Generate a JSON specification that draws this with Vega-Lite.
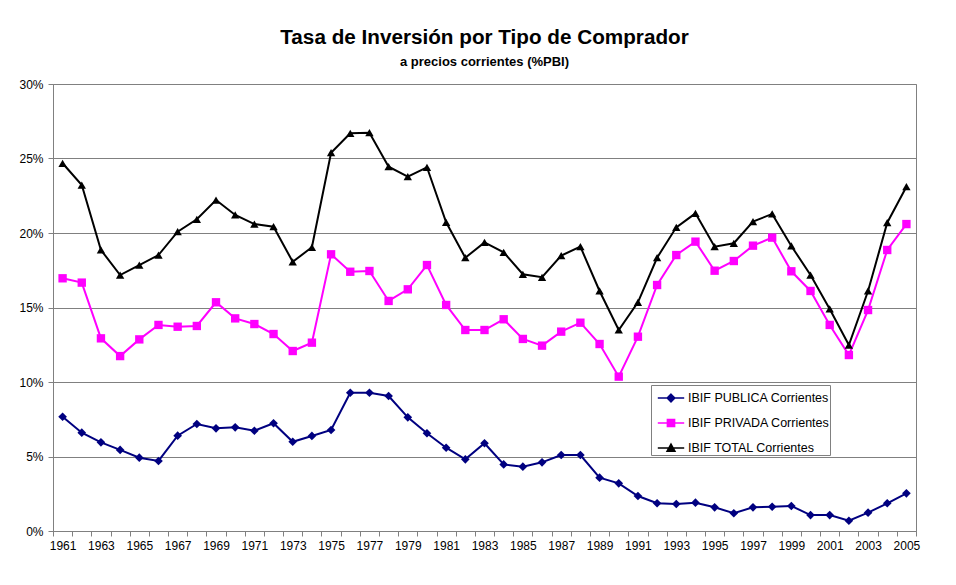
{
  "$schema": "https://vega.github.io/schema/vega-lite/v6.json",
  "width": 863,
  "height": 447,
  "autosize": {"type": "none"},
  "padding": {"left": 53, "top": 84, "right": 40, "bottom": 54},
  "background": "white",
  "config": {
    "font": "Liberation Sans",
    "view": {"stroke": "#808080", "strokeWidth": 1}
  },
  "title": {
    "text": "Tasa de Inversión por Tipo de Comprador",
    "subtitle": "a precios corrientes (%PBI)",
    "anchor": "middle",
    "font": "Liberation Sans",
    "fontSize": 20.7,
    "fontWeight": "bold",
    "color": "black",
    "subtitleFont": "Liberation Sans",
    "subtitleFontSize": 13,
    "subtitleFontWeight": "bold",
    "subtitleColor": "black",
    "subtitlePadding": 7,
    "offset": 8
  },
  "datasets": {
    "rows": [
      {"year":1961,"series":"IBIF PUBLICA Corrientes","value":7.67},
      {"year":1962,"series":"IBIF PUBLICA Corrientes","value":6.6},
      {"year":1963,"series":"IBIF PUBLICA Corrientes","value":5.95},
      {"year":1964,"series":"IBIF PUBLICA Corrientes","value":5.44},
      {"year":1965,"series":"IBIF PUBLICA Corrientes","value":4.92},
      {"year":1966,"series":"IBIF PUBLICA Corrientes","value":4.7},
      {"year":1967,"series":"IBIF PUBLICA Corrientes","value":6.4},
      {"year":1968,"series":"IBIF PUBLICA Corrientes","value":7.18},
      {"year":1969,"series":"IBIF PUBLICA Corrientes","value":6.89},
      {"year":1970,"series":"IBIF PUBLICA Corrientes","value":6.96},
      {"year":1971,"series":"IBIF PUBLICA Corrientes","value":6.73},
      {"year":1972,"series":"IBIF PUBLICA Corrientes","value":7.23},
      {"year":1973,"series":"IBIF PUBLICA Corrientes","value":5.99},
      {"year":1974,"series":"IBIF PUBLICA Corrientes","value":6.38},
      {"year":1975,"series":"IBIF PUBLICA Corrientes","value":6.78},
      {"year":1976,"series":"IBIF PUBLICA Corrientes","value":9.28},
      {"year":1977,"series":"IBIF PUBLICA Corrientes","value":9.28},
      {"year":1978,"series":"IBIF PUBLICA Corrientes","value":9.06},
      {"year":1979,"series":"IBIF PUBLICA Corrientes","value":7.63},
      {"year":1980,"series":"IBIF PUBLICA Corrientes","value":6.56},
      {"year":1981,"series":"IBIF PUBLICA Corrientes","value":5.59},
      {"year":1982,"series":"IBIF PUBLICA Corrientes","value":4.81},
      {"year":1983,"series":"IBIF PUBLICA Corrientes","value":5.89},
      {"year":1984,"series":"IBIF PUBLICA Corrientes","value":4.47},
      {"year":1985,"series":"IBIF PUBLICA Corrientes","value":4.32},
      {"year":1986,"series":"IBIF PUBLICA Corrientes","value":4.61},
      {"year":1987,"series":"IBIF PUBLICA Corrientes","value":5.1},
      {"year":1988,"series":"IBIF PUBLICA Corrientes","value":5.1},
      {"year":1989,"series":"IBIF PUBLICA Corrientes","value":3.58},
      {"year":1990,"series":"IBIF PUBLICA Corrientes","value":3.2},
      {"year":1991,"series":"IBIF PUBLICA Corrientes","value":2.35},
      {"year":1992,"series":"IBIF PUBLICA Corrientes","value":1.86},
      {"year":1993,"series":"IBIF PUBLICA Corrientes","value":1.81},
      {"year":1994,"series":"IBIF PUBLICA Corrientes","value":1.9},
      {"year":1995,"series":"IBIF PUBLICA Corrientes","value":1.59},
      {"year":1996,"series":"IBIF PUBLICA Corrientes","value":1.19},
      {"year":1997,"series":"IBIF PUBLICA Corrientes","value":1.59},
      {"year":1998,"series":"IBIF PUBLICA Corrientes","value":1.63},
      {"year":1999,"series":"IBIF PUBLICA Corrientes","value":1.68},
      {"year":2000,"series":"IBIF PUBLICA Corrientes","value":1.07},
      {"year":2001,"series":"IBIF PUBLICA Corrientes","value":1.07},
      {"year":2002,"series":"IBIF PUBLICA Corrientes","value":0.69},
      {"year":2003,"series":"IBIF PUBLICA Corrientes","value":1.23},
      {"year":2004,"series":"IBIF PUBLICA Corrientes","value":1.86},
      {"year":2005,"series":"IBIF PUBLICA Corrientes","value":2.53},
      {"year":1961,"series":"IBIF PRIVADA Corrientes","value":16.96},
      {"year":1962,"series":"IBIF PRIVADA Corrientes","value":16.67},
      {"year":1963,"series":"IBIF PRIVADA Corrientes","value":12.93},
      {"year":1964,"series":"IBIF PRIVADA Corrientes","value":11.74},
      {"year":1965,"series":"IBIF PRIVADA Corrientes","value":12.86},
      {"year":1966,"series":"IBIF PRIVADA Corrientes","value":13.83},
      {"year":1967,"series":"IBIF PRIVADA Corrientes","value":13.71},
      {"year":1968,"series":"IBIF PRIVADA Corrientes","value":13.76},
      {"year":1969,"series":"IBIF PRIVADA Corrientes","value":15.35},
      {"year":1970,"series":"IBIF PRIVADA Corrientes","value":14.27},
      {"year":1971,"series":"IBIF PRIVADA Corrientes","value":13.89},
      {"year":1972,"series":"IBIF PRIVADA Corrientes","value":13.22},
      {"year":1973,"series":"IBIF PRIVADA Corrientes","value":12.08},
      {"year":1974,"series":"IBIF PRIVADA Corrientes","value":12.64},
      {"year":1975,"series":"IBIF PRIVADA Corrientes","value":18.57},
      {"year":1976,"series":"IBIF PRIVADA Corrientes","value":17.4},
      {"year":1977,"series":"IBIF PRIVADA Corrientes","value":17.45},
      {"year":1978,"series":"IBIF PRIVADA Corrientes","value":15.44},
      {"year":1979,"series":"IBIF PRIVADA Corrientes","value":16.22},
      {"year":1980,"series":"IBIF PRIVADA Corrientes","value":17.85},
      {"year":1981,"series":"IBIF PRIVADA Corrientes","value":15.17},
      {"year":1982,"series":"IBIF PRIVADA Corrientes","value":13.49},
      {"year":1983,"series":"IBIF PRIVADA Corrientes","value":13.49},
      {"year":1984,"series":"IBIF PRIVADA Corrientes","value":14.21},
      {"year":1985,"series":"IBIF PRIVADA Corrientes","value":12.89},
      {"year":1986,"series":"IBIF PRIVADA Corrientes","value":12.44},
      {"year":1987,"series":"IBIF PRIVADA Corrientes","value":13.38},
      {"year":1988,"series":"IBIF PRIVADA Corrientes","value":13.98},
      {"year":1989,"series":"IBIF PRIVADA Corrientes","value":12.55},
      {"year":1990,"series":"IBIF PRIVADA Corrientes","value":10.36},
      {"year":1991,"series":"IBIF PRIVADA Corrientes","value":13.04},
      {"year":1992,"series":"IBIF PRIVADA Corrientes","value":16.51},
      {"year":1993,"series":"IBIF PRIVADA Corrientes","value":18.52},
      {"year":1994,"series":"IBIF PRIVADA Corrientes","value":19.42},
      {"year":1995,"series":"IBIF PRIVADA Corrientes","value":17.47},
      {"year":1996,"series":"IBIF PRIVADA Corrientes","value":18.12},
      {"year":1997,"series":"IBIF PRIVADA Corrientes","value":19.15},
      {"year":1998,"series":"IBIF PRIVADA Corrientes","value":19.69},
      {"year":1999,"series":"IBIF PRIVADA Corrientes","value":17.43},
      {"year":2000,"series":"IBIF PRIVADA Corrientes","value":16.11},
      {"year":2001,"series":"IBIF PRIVADA Corrientes","value":13.83},
      {"year":2002,"series":"IBIF PRIVADA Corrientes","value":11.81},
      {"year":2003,"series":"IBIF PRIVADA Corrientes","value":14.83},
      {"year":2004,"series":"IBIF PRIVADA Corrientes","value":18.86},
      {"year":2005,"series":"IBIF PRIVADA Corrientes","value":20.6},
      {"year":1961,"series":"IBIF TOTAL Corrientes","value":24.68},
      {"year":1962,"series":"IBIF TOTAL Corrientes","value":23.22},
      {"year":1963,"series":"IBIF TOTAL Corrientes","value":18.86},
      {"year":1964,"series":"IBIF TOTAL Corrientes","value":17.18},
      {"year":1965,"series":"IBIF TOTAL Corrientes","value":17.85},
      {"year":1966,"series":"IBIF TOTAL Corrientes","value":18.52},
      {"year":1967,"series":"IBIF TOTAL Corrientes","value":20.09},
      {"year":1968,"series":"IBIF TOTAL Corrientes","value":20.92},
      {"year":1969,"series":"IBIF TOTAL Corrientes","value":22.21},
      {"year":1970,"series":"IBIF TOTAL Corrientes","value":21.21},
      {"year":1971,"series":"IBIF TOTAL Corrientes","value":20.6},
      {"year":1972,"series":"IBIF TOTAL Corrientes","value":20.42},
      {"year":1973,"series":"IBIF TOTAL Corrientes","value":18.07},
      {"year":1974,"series":"IBIF TOTAL Corrientes","value":19.04},
      {"year":1975,"series":"IBIF TOTAL Corrientes","value":25.39},
      {"year":1976,"series":"IBIF TOTAL Corrientes","value":26.69},
      {"year":1977,"series":"IBIF TOTAL Corrientes","value":26.73},
      {"year":1978,"series":"IBIF TOTAL Corrientes","value":24.45},
      {"year":1979,"series":"IBIF TOTAL Corrientes","value":23.78},
      {"year":1980,"series":"IBIF TOTAL Corrientes","value":24.41},
      {"year":1981,"series":"IBIF TOTAL Corrientes","value":20.72},
      {"year":1982,"series":"IBIF TOTAL Corrientes","value":18.34},
      {"year":1983,"series":"IBIF TOTAL Corrientes","value":19.37},
      {"year":1984,"series":"IBIF TOTAL Corrientes","value":18.7},
      {"year":1985,"series":"IBIF TOTAL Corrientes","value":17.23},
      {"year":1986,"series":"IBIF TOTAL Corrientes","value":17.03},
      {"year":1987,"series":"IBIF TOTAL Corrientes","value":18.48},
      {"year":1988,"series":"IBIF TOTAL Corrientes","value":19.08},
      {"year":1989,"series":"IBIF TOTAL Corrientes","value":16.11},
      {"year":1990,"series":"IBIF TOTAL Corrientes","value":13.49},
      {"year":1991,"series":"IBIF TOTAL Corrientes","value":15.35},
      {"year":1992,"series":"IBIF TOTAL Corrientes","value":18.34},
      {"year":1993,"series":"IBIF TOTAL Corrientes","value":20.38},
      {"year":1994,"series":"IBIF TOTAL Corrientes","value":21.32},
      {"year":1995,"series":"IBIF TOTAL Corrientes","value":19.08},
      {"year":1996,"series":"IBIF TOTAL Corrientes","value":19.31},
      {"year":1997,"series":"IBIF TOTAL Corrientes","value":20.76},
      {"year":1998,"series":"IBIF TOTAL Corrientes","value":21.28},
      {"year":1999,"series":"IBIF TOTAL Corrientes","value":19.13},
      {"year":2000,"series":"IBIF TOTAL Corrientes","value":17.18},
      {"year":2001,"series":"IBIF TOTAL Corrientes","value":14.9},
      {"year":2002,"series":"IBIF TOTAL Corrientes","value":12.48},
      {"year":2003,"series":"IBIF TOTAL Corrientes","value":16.11},
      {"year":2004,"series":"IBIF TOTAL Corrientes","value":20.69},
      {"year":2005,"series":"IBIF TOTAL Corrientes","value":23.11}
    ]
  },
  "data": {"name": "rows"},
  "encoding": {
    "x": {
      "field": "year",
      "type": "ordinal",
      "scale": {"type": "band", "paddingInner": 0, "paddingOuter": 0},
      "axis": {
        "title": null,
        "tickBand": "extent",
        "labelAngle": 0,
        "labelOverlap": false,
        "labelExpr": "datum.value % 2 == 1 ? datum.label : ''",
        "labelFont": "Liberation Sans",
        "labelFontSize": 12,
        "labelColor": "black",
        "labelPadding": 4,
        "tickSize": 5,
        "tickColor": "#808080",
        "domainColor": "#808080",
        "grid": false
      }
    },
    "y": {
      "field": "value",
      "type": "quantitative",
      "scale": {"domain": [0, 30], "nice": false},
      "axis": {
        "title": null,
        "values": [0, 5, 10, 15, 20, 25, 30],
        "labelExpr": "datum.value + '%'",
        "labelFont": "Liberation Sans",
        "labelFontSize": 12,
        "labelColor": "black",
        "labelPadding": 5,
        "tickSize": 5,
        "tickColor": "#808080",
        "domainColor": "#808080",
        "grid": true,
        "gridColor": "#808080",
        "gridWidth": 1
      }
    },
    "color": {
      "field": "series",
      "type": "nominal",
      "scale": {
        "domain": ["IBIF PUBLICA Corrientes", "IBIF PRIVADA Corrientes", "IBIF TOTAL Corrientes"],
        "range": ["#000080", "#FF00FF", "#000000"]
      },
      "legend": {
        "title": null,
        "orient": "none",
        "legendX": 598,
        "legendY": 301,
        "padding": 0,
        "strokeColor": "#808080",
        "fillColor": "white",
        "symbolSize": 576,
        "symbolOffset": 7,
        "rowPadding": 5,
        "labelOffset": 4,
        "labelFont": "Liberation Sans",
        "labelFontSize": 12.5,
        "labelColor": "black",
        "labelExpr": "datum.label + '  '",
        "encode": {
          "symbols": {
            "update": {
              "shape": {"signal": "datum.value == 'IBIF PUBLICA Corrientes' ? 'M-1.1,0H1.1M0,-0.32L0.32,0L0,0.32L-0.32,0Z' : datum.value == 'IBIF PRIVADA Corrientes' ? 'M-1.1,0H1.1M-0.3,-0.3H0.3V0.3H-0.3Z' : 'M-1.1,0H1.1M0,-0.33L0.33,0.27H-0.33Z'"},
              "size": {"value": 576},
              "strokeWidth": {"value": 1.5},
              "fill": {"scale": "color", "field": "value"},
              "stroke": {"scale": "color", "field": "value"},
              "opacity": {"value": 1},
              "fillOpacity": {"value": 1},
              "strokeOpacity": {"value": 1}
            }
          }
        }
      }
    }
  },
  "layer": [
    {
      "mark": {"type": "line", "strokeWidth": 2}
    },
    {
      "transform": [{"filter": "datum.series == 'IBIF PUBLICA Corrientes'"}],
      "mark": {"type": "point", "filled": true, "opacity": 1, "size": 75, "shape": "diamond"}
    },
    {
      "transform": [{"filter": "datum.series == 'IBIF PRIVADA Corrientes'"}],
      "mark": {"type": "point", "filled": true, "opacity": 1, "size": 70, "shape": "square"}
    },
    {
      "transform": [{"filter": "datum.series == 'IBIF TOTAL Corrientes'"}],
      "mark": {"type": "point", "filled": true, "opacity": 1, "size": 70, "shape": "triangle-up"}
    }
  ]
}
